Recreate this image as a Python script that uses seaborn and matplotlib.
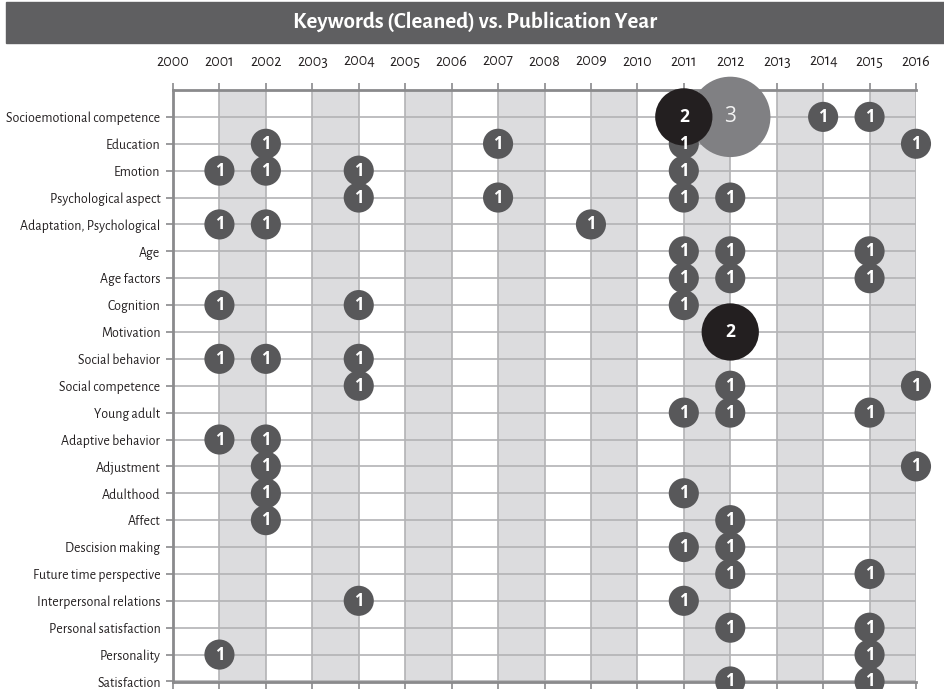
import matplotlib
matplotlib.use('Agg')
import matplotlib.pyplot as plt
import seaborn as sns
import pandas as pd
from matplotlib.patches import Rectangle

# Data
keywords = [
    'Socioemotional competence', 'Education', 'Emotion',
    'Psychological aspect', 'Adaptation, Psychological', 'Age',
    'Age factors', 'Cognition', 'Motivation', 'Social behavior',
    'Social competence', 'Young adult', 'Adaptive behavior',
    'Adjustment', 'Adulthood', 'Affect', 'Descision making',
    'Future time perspective', 'Interpersonal relations',
    'Personal satisfaction', 'Personality', 'Satisfaction']
years = list(range(2000, 2017))

kw_col = (['Socioemotional competence'] * 4 + ['Education'] * 4 +
          ['Emotion'] * 4 + ['Psychological aspect'] * 4 +
          ['Adaptation, Psychological'] * 3 + ['Age'] * 3 +
          ['Age factors'] * 3 + ['Cognition'] * 3 + ['Motivation'] +
          ['Social behavior'] * 3 + ['Social competence'] * 3 +
          ['Young adult'] * 3 + ['Adaptive behavior'] * 2 +
          ['Adjustment'] * 2 + ['Adulthood'] * 2 + ['Affect'] * 2 +
          ['Descision making'] * 2 + ['Future time perspective'] * 2 +
          ['Interpersonal relations'] * 2 +
          ['Personal satisfaction'] * 2 + ['Personality'] * 2 +
          ['Satisfaction'] * 2)
year_col = [2011, 2012, 2014, 2015,
            2002, 2007, 2011, 2016,
            2001, 2002, 2004, 2011,
            2004, 2007, 2011, 2012,
            2001, 2002, 2009,
            2011, 2012, 2015,
            2011, 2012, 2015,
            2001, 2004, 2011,
            2012,
            2001, 2002, 2004,
            2004, 2012, 2016,
            2011, 2012, 2015,
            2001, 2002,
            2002, 2016,
            2002, 2011,
            2002, 2012,
            2011, 2012,
            2012, 2015,
            2004, 2011,
            2012, 2015,
            2001, 2015,
            2012, 2015]
count_col = [2, 3, 1, 1] + [1] * 24 + [2] + [1] * 29

df = pd.DataFrame({'keyword': kw_col, 'year': year_col,
                   'count': count_col})
df['row'] = df['keyword'].map({k: i for i, k in enumerate(keywords)})
# draw order: big grey first, black on top
df['order'] = df['count'].map({3: 0, 1: 1, 2: 2})
df = df.sort_values('order', kind='stable')

palette = {1: '#58585a', 2: '#231f20', 3: '#808083'}
sizes = {1: 470, 2: 1700, 3: 3350}
txt_style = {1: ('white', 12, 'bold'),
             2: ('white', 12.5, 'bold'),
             3: ('#f2f2f2', 15, 'normal')}

label_font = ['Alegreya Sans', 'DejaVu Sans']

sns.set_theme(style='white')
plt.rcParams['font.family'] = label_font

fig = plt.figure(figsize=(9.45, 6.89), dpi=100)
W, H = 945, 689
ax = fig.add_axes([173 / W, 1 - 682 / H, (916 - 173) / W, (682 - 90) / H])

# alternating bands
for y0 in years[1::2]:
    ax.axvspan(y0, y0 + 1, color='#dcdcde', zorder=0, lw=0)

for yr in years:
    ax.axvline(yr, color='#b3b3b5', lw=1.2, zorder=1)
for r in range(len(keywords)):
    ax.axhline(r, color='#b3b3b5', lw=1.2, zorder=1)

sns.scatterplot(data=df, x='year', y='row', hue='count', size='count',
                palette=palette, sizes=sizes, legend=False,
                linewidth=0, alpha=1, ax=ax, zorder=3, clip_on=False)

for _, r in df.iterrows():
    c, fs, fw = txt_style[r['count']]
    ax.text(r['year'], r['row'], str(r['count']), color=c,
            fontsize=fs, fontweight=fw, ha='center', va='center',
            family=['Open Sans', 'DejaVu Sans'], zorder=4,
            clip_on=False)

ax.set_xlim(2000, 2016)
ax.set_ylim(len(keywords) - 1 + 0.02, -1)
ax.set_xticks(years)
ax.set_xticklabels([str(y) for y in years], fontsize=11.5,
                   color='#231f20')
ax.set_yticks(range(len(keywords)))
ax.set_yticklabels(keywords, fontsize=10, color='#231f20')
ax.xaxis.tick_top()
ax.tick_params(axis='x', which='both', top=True, bottom=True,
               labeltop=True, labelbottom=False, length=5,
               width=1.2, color='#8a8a8c', pad=10, direction='out')
ax.tick_params(axis='y', left=True, length=5, width=1.2,
               color='#8a8a8c', pad=4)
ax.set_xlabel('')
ax.set_ylabel('')

for side in ['top', 'left', 'bottom']:
    ax.spines[side].set_color('#8a8a8c')
    ax.spines[side].set_linewidth(2)
ax.spines['right'].set_visible(False)

# title bar
fig.patches.append(Rectangle((6 / W, 1 - 43 / H), (W - 6) / W, 41 / H,
                             transform=fig.transFigure,
                             color='#5f5f61', zorder=0))
fig.text(475 / W, 1 - 22 / H, 'Keywords (Cleaned) vs. Publication Year',
         ha='center', va='center', color='white', fontsize=16.5,
         fontweight='bold')

plt.savefig('out.png', dpi=100)
